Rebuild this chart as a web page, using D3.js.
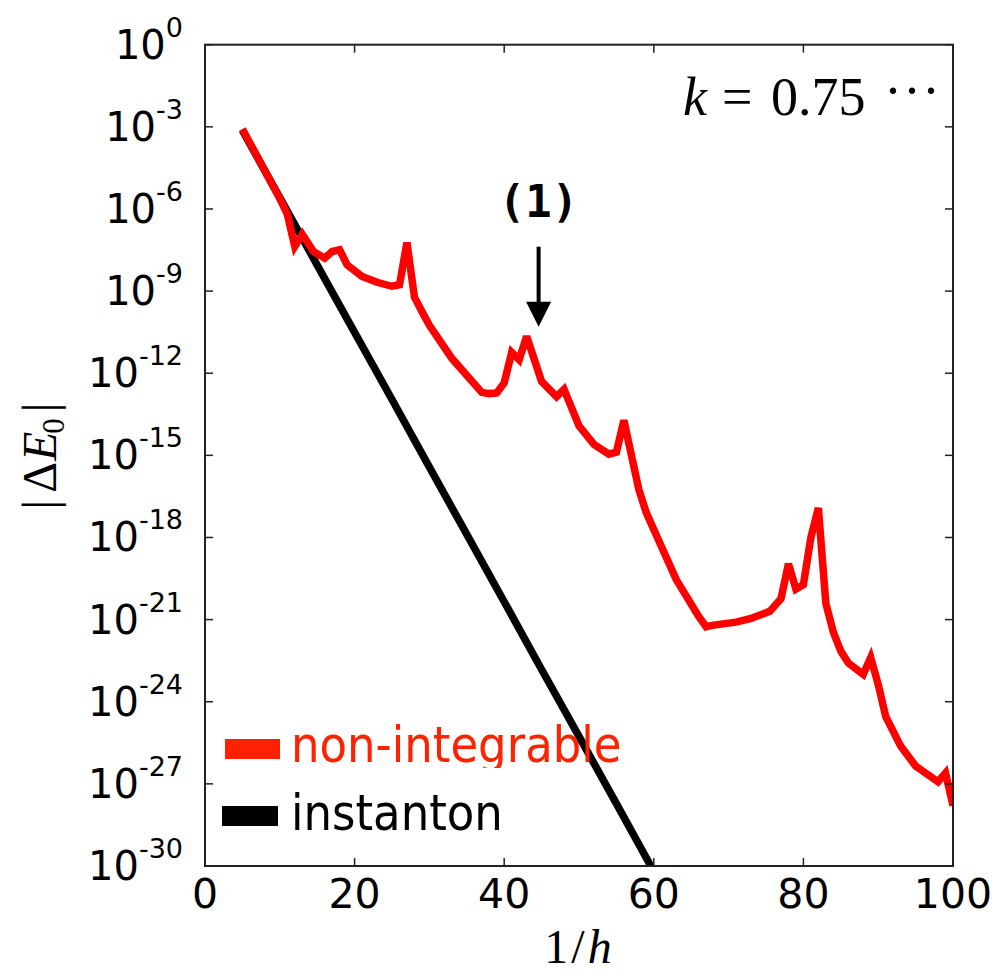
<!DOCTYPE html>
<html>
<head>
<meta charset="utf-8">
<script src="https://cdn.jsdelivr.net/npm/d3@7"></script>
<style>
  html, body { margin: 0; padding: 0; background: #fff; }
  svg { display: block; }
</style>
</head>
<body>
<svg id="chart" width="1003" height="976"></svg>
<script>
// 1/h values and |ΔE0| for the non-integrable model
const nonIntX = [5, 8, 10, 11, 12, 13, 14.5, 16, 17, 18, 19, 21, 23, 25, 26, 27, 28, 29, 30, 33, 37, 38, 39, 40, 41, 42, 43, 45, 47, 48, 50, 52, 54, 55, 56, 58, 59, 61, 63, 66, 67, 68, 71, 73, 75.5, 77, 78, 79, 80, 81, 82, 83, 84, 85, 86, 88, 89, 90, 91, 93, 95, 98, 99, 100];
const nonIntE = [8.3e-4, 2.5e-5, 2.4e-6, 6.5e-7, 4.3e-8, 1.2e-7, 2.8e-8, 1.6e-8, 2.8e-8, 3.2e-8, 9.1e-9, 3.4e-9, 2.1e-9, 1.5e-9, 1.7e-9, 5.9e-8, 6.0e-10, 1.8e-10, 5.6e-11, 3.5e-12, 2.0e-13, 1.8e-13, 1.9e-13, 4.4e-13, 5.8e-12, 3.1e-12, 2.2e-11, 5.0e-13, 1.4e-13, 2.6e-13, 1.2e-14, 2.5e-15, 1.1e-15, 1.3e-15, 1.9e-14, 5.6e-17, 7.9e-18, 4.8e-19, 2.9e-20, 1.3e-21, 5.5e-22, 6.3e-22, 8.1e-22, 1.1e-21, 2.0e-21, 5.8e-21, 1.1e-19, 1.3e-20, 1.9e-20, 1.0e-18, 1.2e-17, 3.9e-21, 3.5e-22, 7.1e-23, 2.6e-23, 1.0e-23, 4.1e-23, 4.3e-24, 2.9e-25, 2.4e-26, 4.5e-27, 1.2e-27, 2.5e-27, 1.6e-28];

// 1/h values and |ΔE0| from the instanton estimate
const instX = [5, 10, 15, 20, 25, 30, 35, 40, 45, 50, 55, 60];
const instE = [7.4e-4, 2.6e-6, 8.9e-9, 3.1e-11, 1.1e-13, 3.7e-16, 1.3e-18, 4.5e-21, 1.5e-23, 5.4e-26, 1.9e-28, 6.3e-31];

// Axis ticks
const xTicks = [0, 20, 40, 60, 80, 100];
const yTickExps = [0, -3, -6, -9, -12, -15, -18, -21, -24, -27, -30];

// Annotation (1): arrow at 1/h = 44.6
const markX = 44.6;
const markTop = 4.2e-8;
const markTip = 5.0e-11;
const markLabelAt = 5.1e-7;

const svg = d3.select("#chart");
const L = 205, R = 953, T = 44.7, B = 866;

const x = d3.scaleLinear().domain([0, 100]).range([L, R]);
const y = d3.scaleLog().domain([1e-30, 1]).range([B, T]);

// Clip for the curves
svg.append("defs").append("clipPath").attr("id", "plotClip")
  .append("rect").attr("x", L).attr("y", T).attr("width", R - L).attr("height", B - T);
svg.select("defs").append("clipPath").attr("id", "legClip")
  .append("rect").attr("x", 280).attr("y", 700).attr("width", 400).attr("height", 68);

const line = d3.line().x(d => x(d[0])).y(d => y(d[1]));

const plot = svg.append("g").attr("clip-path", "url(#plotClip)");
plot.append("path")
  .datum(d3.zip(instX, instE))
  .attr("d", line)
  .attr("fill", "none").attr("stroke", "#000").attr("stroke-width", 7.5)
  .attr("stroke-linejoin", "miter");
plot.append("path")
  .datum(d3.zip(nonIntX, nonIntE))
  .attr("d", line)
  .attr("fill", "none").attr("stroke", "#ff0000").attr("stroke-width", 7.5)
  .attr("stroke-linejoin", "miter").attr("stroke-miterlimit", 3);

// Frame
svg.append("rect").attr("x", L).attr("y", T).attr("width", R - L).attr("height", B - T)
  .attr("fill", "none").attr("stroke", "#222").attr("stroke-width", 2);

// Ticks (inward, on all four sides)
const tk = svg.append("g").attr("stroke", "#222").attr("stroke-width", 1.5);
xTicks.forEach(v => {
  tk.append("line").attr("x1", x(v)).attr("x2", x(v)).attr("y1", B).attr("y2", B - 8);
  tk.append("line").attr("x1", x(v)).attr("x2", x(v)).attr("y1", T).attr("y2", T + 8);
});
yTickExps.forEach(e => {
  const yy = y(Math.pow(10, e));
  tk.append("line").attr("x1", L).attr("x2", L + 8).attr("y1", yy).attr("y2", yy);
  tk.append("line").attr("x1", R).attr("x2", R - 8).attr("y1", yy).attr("y2", yy);
});

const sans = "'DejaVu Sans', sans-serif";
const serif = "'Liberation Serif', 'Times New Roman', serif";

// X tick labels
svg.append("g").selectAll("text").data(xTicks).join("text")
  .attr("x", d => x(d)).attr("y", 908)
  .attr("text-anchor", "middle")
  .attr("font-family", sans).attr("font-size", 41).attr("fill", "#000")
  .text(d => d);

// Y tick labels: 10^n
const yl = svg.append("g").selectAll("text").data(yTickExps).join("text")
  .attr("x", 183).attr("y", d => y(Math.pow(10, d)) + 14)
  .attr("text-anchor", "end")
  .attr("font-family", sans).attr("fill", "#000");
yl.append("tspan").attr("font-size", 40).text("10");
yl.append("tspan").attr("font-size", 27).attr("dy", -22).text(d => d === 0 ? "0" : "-" + Math.abs(d));

// Y axis label |ΔE0|
const ylab = svg.append("text")
  .attr("transform", "translate(56,456) rotate(-90)")
  .attr("text-anchor", "middle")
  .attr("font-family", serif).attr("font-size", 48).attr("fill", "#000");
ylab.append("tspan").text("|");
ylab.append("tspan").attr("dx", 7).text("Δ");
ylab.append("tspan").attr("font-style", "italic").attr("dx", 1).text("E");
ylab.append("tspan").attr("font-size", 31).attr("dy", 8).attr("dx", -2).text("0");
ylab.append("tspan").attr("dy", -8).attr("dx", 6).text("|");

// X axis label 1/h
const xlab = svg.append("text")
  .attr("x", 578).attr("y", 963)
  .attr("text-anchor", "middle")
  .attr("font-family", serif).attr("font-size", 48).attr("fill", "#000");
xlab.append("tspan").text("1");
xlab.append("tspan").attr("dx", 3).text("/");
xlab.append("tspan").attr("dx", 3).attr("font-style", "italic").text("h");

// Parameter label
const kl = svg.append("text").attr("y", 115)
  .attr("font-family", serif).attr("font-size", 54).attr("fill", "#000");
kl.append("tspan").attr("x", 683).attr("font-style", "italic").text("k");
kl.append("tspan").attr("x", 722).text("=");
kl.append("tspan").attr("x", 771).text("0.75");
kl.append("tspan").attr("x", 884).attr("dy", -6).attr("letter-spacing", 1).text("···");

// Annotation (1) with arrow
svg.append("text")
  .attr("x", x(markX)).attr("y", y(markLabelAt))
  .attr("text-anchor", "middle")
  .attr("font-family", "'DejaVu Sans Mono', monospace").attr("font-weight", "bold")
  .attr("font-size", 44).attr("fill", "#000")
  .text("(1)");
const headLen = 25, headHalf = 12.5;
svg.append("line")
  .attr("x1", x(markX)).attr("x2", x(markX))
  .attr("y1", y(markTop)).attr("y2", y(markTip) - headLen + 2)
  .attr("stroke", "#000").attr("stroke-width", 4);
svg.append("path")
  .attr("d", `M${x(markX) - headHalf},${y(markTip) - headLen} L${x(markX) + headHalf},${y(markTip) - headLen} L${x(markX)},${y(markTip)} Z`)
  .attr("fill", "#000");

// Legend
const leg = svg.append("g");
leg.append("rect").attr("x", 225).attr("y", 739).attr("width", 55).attr("height", 20).attr("fill", "#ff2200");
leg.append("text").attr("x", 291).attr("y", 762)
  .attr("clip-path", "url(#legClip)")
  .attr("font-family", "'DejaVu Sans Condensed', 'DejaVu Sans', sans-serif")
  .attr("font-stretch", "condensed")
  .attr("font-size", 50).attr("fill", "#ff2200")
  .text("non-integrable");
leg.append("rect").attr("x", 222).attr("y", 806).attr("width", 56).attr("height", 20).attr("fill", "#000");
leg.append("text").attr("x", 291).attr("y", 830)
  .attr("font-family", "'DejaVu Sans Condensed', 'DejaVu Sans', sans-serif")
  .attr("font-stretch", "condensed")
  .attr("font-size", 50).attr("fill", "#000")
  .text("instanton");
</script>
</body>
</html>
